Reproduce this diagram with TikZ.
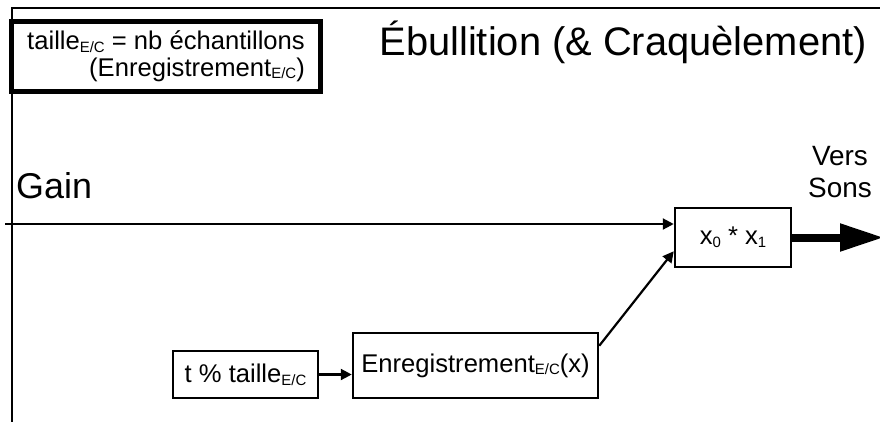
\documentclass[tikz,border=0pt]{standalone}
\usepackage{fontspec}
\setmainfont{Liberation Sans}
\usetikzlibrary{arrows.meta,calc}
\newcommand\sbs[1]{\raisebox{-0.2ex}{\fontsize{15}{15}\selectfont #1}}
\begin{document}
\begin{tikzpicture}[x=1bp,y=-1bp,
  frameline/.style={line width=2bp},
  blockbox/.style={draw,line width=2.5bp,inner sep=0pt,fill=white},
  conn/.style={line width=2.2bp,-{Triangle[length=11bp,width=11bp]}},
  txt/.style={font=\fontsize{25.7}{27}\selectfont}]
\useasboundingbox (0,0) rectangle (880,421);
% frame
\coordinate (tl) at (12,8);
\coordinate (tr) at (882,8);
\coordinate (bl) at (12,423);
\draw[frameline] (tr) -- (tl) -- (bl);
% legend
\node[draw,line width=5bp,minimum width=308bp,minimum height=70bp,inner sep=0pt,
      align=right,txt] (legend) at (166,56)
  {taille\sbs{E/C} = nb échantillons\\(Enregistrement\sbs{E/C})};
% title
\node[anchor=base east,inner sep=0pt,font=\fontsize{40}{44}\selectfont] (title) at (867,55)
  {Ébullition (\& Craquèlement)};
% Gain
\node[anchor=base west,inner sep=0pt,font=\fontsize{36}{40}\selectfont] (gain) at (16,198) {Gain};
% Vers Sons
\node[anchor=base,inner sep=0pt,align=center,font=\fontsize{28}{32}\selectfont] (vers) at (840,197) {Vers\\Sons};
% blocks
\node[blockbox,minimum width=116bp,minimum height=59bp,txt] (xbox) at (733,237.5)
  {x\sbs{0} * x\sbs{1}};
\node[blockbox,minimum width=245bp,minimum height=65bp,txt] (enr) at (475.5,365.5)
  {Enregistrement\sbs{E/C}(x)};
\node[blockbox,minimum width=145bp,minimum height=47bp,txt] (tbox) at (245.5,374.5)
  {t \% taille\sbs{E/C}};
% connectors
\coordinate (g0) at (5,224);
\draw[conn] (g0) -- (g0 -| xbox.west);
\draw[conn] ($(enr.north east)+(0,14)$) -- ($(xbox.south west)+(0,-17)$);
\draw[conn] (tbox.east) -- (tbox.east -| enr.west);
\coordinate (out) at (884,237.5);
\draw[line width=8bp,-{Triangle[length=44bp,width=26bp]}] (xbox.east) -- (out);
\end{tikzpicture}
\end{document}
